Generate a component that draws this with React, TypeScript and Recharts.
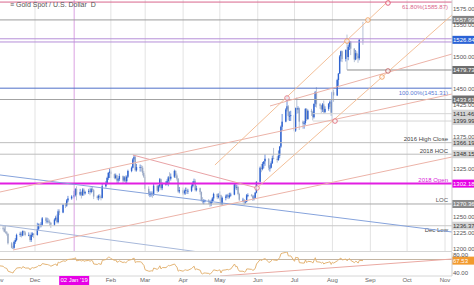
import { ComposedChart, Bar, Line, XAxis, YAxis, ReferenceLine, ReferenceDot } from 'recharts';

// trading days, month by month
const tradingDays: [string, number[]][] = [
    ['2018-11', [1, 2, 5, 6, 7, 8, 9, 12, 13, 14, 15, 16, 19, 20, 21, 22, 23, 26, 27, 28, 29, 30]],
    ['2018-12', [3, 4, 5, 6, 7, 10, 11, 12, 13, 14, 17, 18, 19, 20, 21, 24, 26, 27, 28, 31]],
    ['2019-01', [2, 3, 4, 7, 8, 9, 10, 11, 14, 15, 16, 17, 18, 21, 22, 23, 24, 25, 28, 29, 30, 31]],
    ['2019-02', [1, 4, 5, 6, 7, 8, 11, 12, 13, 14, 15, 18, 19, 20, 21, 22, 25, 26, 27, 28]],
    ['2019-03', [1, 4, 5, 6, 7, 8, 11, 12, 13, 14, 15, 18, 19, 20, 21, 22, 25, 26, 27, 28, 29]],
    ['2019-04', [1, 2, 3, 4, 5, 8, 9, 10, 11, 12, 15, 16, 17, 18, 19, 22, 23, 24, 25, 26, 29, 30]],
    ['2019-05', [1, 2, 3, 6, 7, 8, 9, 10, 13, 14, 15, 16, 17, 20, 21, 22, 23, 24, 27, 28, 29, 30, 31]],
    ['2019-06', [3, 4, 5, 6, 7, 10, 11, 12, 13, 14, 17, 18, 19, 20, 21, 24, 25, 26, 27, 28]],
    ['2019-07', [1, 2, 3, 4, 5, 8, 9, 10, 11, 12, 15, 16, 17, 18, 19, 22, 23, 24, 25, 26, 29, 30, 31]],
    ['2019-08', [1, 2, 5, 6, 7, 8, 9, 12, 13, 14, 15, 16, 19, 20, 21, 22, 23, 26]],
];

const opens = [
    1215, 1233, 1233, 1232, 1227, 1226, 1224, 1209, 1202, 1201, 1211, 1214, 1222, 1224, 1221, 1228, 1226, 1222, 1222, 1214, 1222, 1224,
    1222, 1231, 1238, 1237, 1238, 1248, 1244, 1244, 1243, 1241, 1238, 1246, 1249, 1242, 1259, 1257, 1269, 1268, 1276, 1279,
    1282, 1284, 1294, 1285, 1289, 1284, 1293, 1287, 1289, 1291, 1289, 1294, 1292, 1282, 1280, 1283, 1281, 1280, 1298, 1303, 1311, 1319,
    1321, 1317, 1311, 1315, 1307, 1309, 1314, 1307, 1312, 1306, 1313, 1322, 1327, 1340, 1344, 1323, 1328, 1328, 1327, 1319,
    1313, 1294, 1286, 1286, 1287, 1286, 1299, 1291, 1298, 1309, 1295, 1302, 1302, 1306, 1312, 1310, 1313, 1322, 1315, 1310, 1290,
    1292, 1287, 1291, 1292, 1291, 1291, 1298, 1303, 1306, 1292, 1295, 1289, 1276, 1274, 1276, 1276, 1274, 1271, 1275, 1279, 1286, 1281,
    1283, 1284, 1271, 1280, 1282, 1284, 1281, 1284, 1285, 1301, 1296, 1297, 1286, 1277, 1277, 1273, 1274, 1284, 1284, 1283, 1279, 1280, 1288,
    1305, 1327, 1325, 1333, 1337, 1341, 1327, 1327, 1334, 1342, 1341, 1339, 1346, 1360, 1391, 1399, 1418, 1423, 1408, 1408,
    1409, 1385, 1420, 1418, 1420, 1399, 1396, 1397, 1419, 1403, 1416, 1414, 1406, 1427, 1445, 1426, 1424, 1418, 1426, 1414, 1419, 1427, 1430,
    1413, 1445, 1440, 1464, 1474, 1501, 1509, 1497, 1511, 1500, 1516, 1524, 1513, 1496, 1506, 1502, 1498, 1527,
];
const highs = [
    1237, 1237, 1236, 1237, 1237, 1228, 1224, 1211, 1205, 1213, 1217, 1224, 1227, 1227, 1229, 1229, 1228, 1226, 1223, 1226, 1226, 1225,
    1241, 1240, 1240, 1242, 1250, 1250, 1249, 1248, 1246, 1242, 1248, 1252, 1254, 1262, 1262, 1270, 1272, 1278, 1283, 1284,
    1291, 1295, 1298, 1294, 1290, 1295, 1295, 1291, 1294, 1296, 1296, 1298, 1294, 1284, 1285, 1286, 1284, 1303, 1306, 1313, 1320, 1326,
    1324, 1318, 1318, 1316, 1311, 1318, 1315, 1314, 1315, 1315, 1324, 1329, 1342, 1347, 1346, 1333, 1332, 1331, 1330, 1322,
    1316, 1298, 1290, 1290, 1290, 1302, 1300, 1300, 1311, 1310, 1304, 1306, 1309, 1314, 1320, 1318, 1324, 1323, 1318, 1311, 1297,
    1296, 1293, 1296, 1296, 1294, 1301, 1306, 1310, 1309, 1299, 1296, 1290, 1281, 1278, 1277, 1278, 1276, 1277, 1281, 1288, 1287, 1287,
    1290, 1285, 1282, 1285, 1286, 1287, 1288, 1288, 1303, 1302, 1300, 1299, 1288, 1280, 1278, 1276, 1286, 1287, 1286, 1285, 1284, 1289, 1306,
    1329, 1333, 1336, 1337, 1348, 1342, 1331, 1337, 1346, 1358, 1345, 1354, 1361, 1393, 1411, 1420, 1439, 1425, 1415, 1416,
    1410, 1421, 1437, 1423, 1421, 1401, 1400, 1420, 1420, 1418, 1419, 1416, 1427, 1447, 1453, 1428, 1425, 1428, 1432, 1423, 1428, 1432, 1434,
    1446, 1449, 1466, 1475, 1503, 1510, 1510, 1512, 1535, 1519, 1525, 1525, 1514, 1511, 1509, 1505, 1528, 1555,
];
const lows = [
    1214, 1228, 1229, 1226, 1224, 1221, 1207, 1201, 1200, 1203, 1208, 1212, 1219, 1218, 1220, 1225, 1220, 1220, 1211, 1211, 1219, 1217,
    1221, 1229, 1233, 1234, 1236, 1240, 1240, 1240, 1236, 1233, 1236, 1244, 1240, 1240, 1253, 1256, 1264, 1266, 1273, 1277,
    1279, 1282, 1276, 1283, 1279, 1283, 1283, 1285, 1286, 1284, 1287, 1289, 1278, 1277, 1276, 1278, 1276, 1279, 1296, 1301, 1308, 1311,
    1311, 1309, 1309, 1303, 1303, 1306, 1302, 1305, 1303, 1302, 1311, 1320, 1326, 1336, 1321, 1321, 1321, 1321, 1315, 1311,
    1290, 1283, 1281, 1282, 1280, 1283, 1288, 1289, 1296, 1292, 1292, 1299, 1300, 1298, 1302, 1307, 1311, 1311, 1307, 1288, 1287,
    1284, 1285, 1285, 1286, 1286, 1289, 1296, 1302, 1290, 1290, 1285, 1274, 1271, 1270, 1273, 1270, 1266, 1267, 1272, 1275, 1278, 1279,
    1276, 1267, 1268, 1276, 1279, 1278, 1279, 1282, 1284, 1293, 1292, 1284, 1275, 1273, 1269, 1271, 1273, 1281, 1282, 1275, 1276, 1279, 1287,
    1304, 1320, 1323, 1326, 1330, 1323, 1321, 1326, 1333, 1340, 1335, 1338, 1342, 1358, 1385, 1398, 1415, 1401, 1400, 1400,
    1382, 1383, 1411, 1412, 1386, 1388, 1388, 1394, 1400, 1402, 1408, 1401, 1404, 1422, 1421, 1419, 1412, 1414, 1411, 1412, 1416, 1422, 1408,
    1400, 1430, 1439, 1455, 1474, 1493, 1492, 1493, 1480, 1495, 1511, 1503, 1492, 1495, 1497, 1491, 1495, 1519,
];
const closes = [
    1233, 1233, 1232, 1227, 1226, 1224, 1209, 1202, 1201, 1211, 1214, 1222, 1224, 1221, 1228, 1226, 1222, 1222, 1214, 1222, 1224, 1222,
    1231, 1238, 1237, 1238, 1248, 1244, 1244, 1243, 1241, 1238, 1246, 1249, 1242, 1259, 1257, 1269, 1268, 1276, 1279, 1282,
    1284, 1294, 1285, 1289, 1284, 1293, 1287, 1289, 1291, 1289, 1294, 1292, 1282, 1280, 1283, 1281, 1280, 1298, 1303, 1311, 1319, 1321,
    1317, 1311, 1315, 1307, 1309, 1314, 1307, 1312, 1306, 1313, 1322, 1327, 1340, 1344, 1323, 1328, 1328, 1327, 1319, 1313,
    1294, 1286, 1286, 1287, 1286, 1299, 1291, 1298, 1309, 1295, 1302, 1302, 1306, 1312, 1310, 1313, 1322, 1315, 1310, 1290, 1292,
    1287, 1291, 1292, 1291, 1291, 1298, 1303, 1306, 1292, 1295, 1289, 1276, 1274, 1276, 1276, 1274, 1271, 1275, 1279, 1286, 1281, 1283,
    1284, 1271, 1280, 1282, 1284, 1281, 1284, 1285, 1301, 1296, 1297, 1286, 1277, 1277, 1273, 1274, 1284, 1284, 1283, 1279, 1280, 1288, 1305,
    1327, 1325, 1333, 1337, 1341, 1327, 1327, 1334, 1342, 1341, 1339, 1346, 1360, 1391, 1399, 1418, 1423, 1408, 1408, 1409,
    1385, 1420, 1418, 1420, 1399, 1396, 1397, 1419, 1403, 1416, 1414, 1406, 1427, 1445, 1426, 1424, 1418, 1426, 1414, 1419, 1427, 1430, 1413,
    1445, 1440, 1464, 1474, 1501, 1509, 1497, 1511, 1500, 1516, 1524, 1513, 1496, 1506, 1502, 1498, 1527, 1526.84,
];
const rsi = [
    56, 56, 55, 52, 51, 50, 44, 41, 40, 45, 47, 51, 52, 50, 54, 53, 51, 51, 47, 51, 52, 51,
    54, 57, 56, 57, 61, 59, 59, 58, 57, 55, 59, 60, 56, 64, 63, 67, 66, 69, 70, 71,
    72, 74, 67, 69, 66, 69, 66, 67, 68, 66, 68, 67, 60, 59, 61, 60, 59, 68, 70, 73, 75, 75,
    72, 68, 69, 64, 65, 67, 63, 65, 62, 65, 68, 70, 72, 73, 63, 65, 65, 64, 60, 57,
    47, 44, 44, 45, 44, 51, 48, 51, 56, 49, 52, 52, 54, 57, 56, 57, 60, 56, 53, 44, 46,
    44, 46, 47, 46, 46, 50, 53, 55, 47, 49, 46, 39, 38, 40, 40, 39, 37, 40, 43, 47, 45, 46,
    47, 40, 46, 47, 48, 47, 48, 49, 60, 54, 55, 48, 44, 44, 42, 43, 49, 49, 48, 46, 47, 51, 60,
    70, 67, 70, 71, 72, 64, 64, 67, 70, 69, 68, 71, 75, 83, 84, 86, 87, 78, 78, 78,
    66, 75, 74, 74, 63, 62, 62, 69, 63, 66, 65, 62, 68, 74, 65, 64, 62, 64, 60, 62, 64, 65, 59,
    64, 62, 67, 69, 72, 73, 69, 71, 67, 70, 72, 68, 63, 66, 65, 62, 68, 67.53,
];

// horizontal levels drawn on the price panel
const levelPrices = [1585.87, 1557.99, 1526.84, 1479.73, 1451.31, 1433.61, 1411.46, 1399.99, 1366.19, 1348.15, 1302.18, 1270.36, 1236.37];
const levelNames = ['61.80%(1585.87)', '', '', '', '100.00%(1451.31)', '', '', '', '2016 High Close', '2018 HOC', '2018 Open', 'LOC', 'Dec Low'];
const levelFrom = ['', '', '', '2019-08-13', '', '', '2019-07-16', '2019-07-16', '', '', '', '', ''];
const zoneBounds = [1528.5, 1523.5];

// trendlines [day, price] -> [day, price]
const trendlines: [number, number, number, number][] = [
    [1.4, 1315.7, 370.7, 1226.6],
    [1.4, 1237.5, 200, 1186],
    [110, 1346.9, 211.4, 1295.4],
    [1.4, 1289.1, 370.7, 1442.2],
    [12, 1198.5, 370.7, 1343.8],
    [177, 1331.3, 328.2, 1604.7],
    [211.4, 1295.4, 370.7, 1565.7],
    [222, 1423.5, 370.7, 1504.7],
];
const pivots: [number, number][] = [
    [211.4, 1295.4], [235.9, 1436], [275.1, 1400], [284.9, 1525],
    [302, 1557.8], [318.4, 1584.4], [318.4, 1478.2], [313.5, 1468.8],
];
const rsiTrend: [number, number, number, number] = [181.1, 33.3, 370.7, 71.1];
const rsiLevel = 70;
const rsiLast = 67.53;

const monthStarts = ['2018-11-01', '2018-12-01', '2019-01-02', '2019-02-01', '2019-03-01', '2019-04-01', '2019-05-01',
    '2019-06-01', '2019-07-01', '2019-08-01', '2019-09-01', '2019-10-01', '2019-11-01'];
const monthLabels = ['Nov', 'Dec', "02 Jan '19", 'Feb', 'Mar', 'Apr', 'May', 'Jun', 'Jul', 'Aug', 'Sep', 'Oct', 'Nov'];
const priceTicks = [1200, 1225, 1250, 1325, 1375, 1425, 1450, 1500, 1550, 1575];
const rsiTicks = [40, 80];

const dayIndex = (date: string) => (Date.parse(date) - Date.parse('2018-11-01')) / 86400000;

const dates = tradingDays.flatMap(([m, days]) => days.map((d) => `${m}-${String(d).padStart(2, '0')}`));
const rows = dates.map((date, i) => ({
    day: dayIndex(date),
    open: opens[i],
    high: highs[i],
    low: lows[i],
    close: closes[i],
    rsi: rsi[i],
}));
const monthDays = monthStarts.map(dayIndex);
const JAN = 2;

const X_DOMAIN = [1.4, 370.7];
const UP = '#2f63cf';
const DOWN = '#98a7c4';

const levelStyles = [
    { stroke: '#d9668c', text: '#d9668c', below: true },
    { stroke: '#9b9b9b', tagFill: '#858585', tagText: '#fff' },
    { stroke: 'none', tagFill: '#2a62d6', tagText: '#fff' },
    { stroke: '#8c8c8c', tagFill: '#6e6e6e', tagText: '#fff' },
    { stroke: '#4f70c9', text: '#5a7bd6', below: true },
    { stroke: '#a3a3a3', tagFill: '#6e6e6e', tagText: '#fff' },
    { stroke: '#d5d5d5', tagFill: '#d4d4d4', tagText: '#333' },
    { stroke: '#d5d5d5', tagFill: '#d4d4d4', tagText: '#333' },
    { stroke: '#bdbdbd', text: '#444', tagFill: '#d4d4d4', tagText: '#333' },
    { stroke: '#bdbdbd', text: '#444', tagFill: '#d4d4d4', tagText: '#333' },
    { stroke: '#e21fe2', width: 2, text: '#d81bd8', tagFill: '#e600e6', tagText: '#fff' },
    { stroke: '#a8a8a8', text: '#555', tagFill: '#8a8a8a', tagText: '#fff' },
    { stroke: '#c8c8c8', text: '#444', tagFill: '#d4d4d4', tagText: '#333', below: true },
];
const trendColors = ['#86a3dc', '#a7b8da', '#e9a3a6', '#ecb3a8', '#ecb3a8', '#f3bf98', '#f3bf98', '#ecb3a8'];
const pivotColors = ['#e07a8a', '#e07a8a', '#e06a78', '#f0a060', '#f0a060', '#e05070', '#c06060', '#f0a060'];

const Candle = (props: any) => {
    const { x, y, width, height, payload } = props;
    const { open, high, low, close } = payload;
    const top = Math.min(y, y + height);
    const span = Math.abs(height);
    const k = high > low ? span / (high - low) : 0;
    const cx = x + width / 2;
    const yO = top + (high - open) * k;
    const yC = top + (high - close) * k;
    const color = close >= open ? UP : DOWN;
    return (
        <g>
            <line x1={cx} x2={cx} y1={top} y2={top + span} stroke={color} strokeWidth={0.7} />
            <rect x={cx - 0.7} y={Math.min(yO, yC)} width={1.4} height={Math.max(Math.abs(yC - yO), 0.8)} fill={color} />
        </g>
    );
};

const levelLabel = (text: string, tag: string, st: any) => (props: any) => {
    const { x, y, width } = props.viewBox;
    const right = x + width;
    return (
        <g>
            {text ? (
                <text x={right - 4} y={st.below ? y + 6.5 : y - 1.5} textAnchor="end" fontSize={6} fill={st.text}>{text}</text>
            ) : null}
            {st.tagFill ? (
                <g>
                    <rect x={right} y={y - 4} width={22} height={8} fill={st.tagFill} />
                    <text x={right + 1} y={y + 2.2} fontSize={6} fill={st.tagText}>{tag}</text>
                </g>
            ) : null}
        </g>
    );
};

const MonthTick = (props: any) => {
    const { x, y, payload } = props;
    const i = monthDays.indexOf(payload.value);
    if (i === JAN) {
        return (
            <g>
                <rect x={x - 15} y={y} width={30} height={9} fill="#e600e6" />
                <text x={x} y={y + 6.3} textAnchor="middle" fontSize={6} fill="#fff">{monthLabels[i]}</text>
            </g>
        );
    }
    return <text x={x} y={y + 6.2} textAnchor="middle" fontSize={6} fill="#666">{monthLabels[i]}</text>;
};

export default function App() {
    return (
        <div style={{ position: 'absolute', left: 0, top: 0, width: 474, height: 285, background: '#fff', fontFamily: '"Liberation Sans", Arial, sans-serif', overflow: 'hidden' }}>
            <div style={{ borderBottom: '1px solid #d6d6d6', width: 452, height: 251 }}>
                <ComposedChart width={474} height={251} data={rows} margin={{ top: 0, right: 0, bottom: 0, left: 0 }}>
                    <XAxis dataKey="day" type="number" domain={X_DOMAIN} allowDataOverflow hide />
                    <YAxis orientation="right" width={22} type="number" domain={[1196.9, 1589.1]} allowDataOverflow
                        ticks={priceTicks} interval={0} tickFormatter={(v: number) => v.toFixed(2)}
                        tick={{ fontSize: 6, fill: '#555' }} tickLine={false} tickSize={0} tickMargin={1}
                        axisLine={{ stroke: '#cfcfcf' }} />
                    {monthDays.map((d, i) => (
                        <ReferenceLine key={`m${i}`} x={d} stroke={i === JAN ? '#dba2e2' : '#e3e3e3'} ifOverflow="hidden" />
                    ))}
                    {zoneBounds.map((p, i) => (
                        <ReferenceLine key={`z${i}`} y={p} stroke="#b58fd8" />
                    ))}
                    {levelPrices.map((p, i) => {
                        const st = levelStyles[i];
                        const label = levelLabel(levelNames[i], p.toFixed(2), st);
                        if (levelFrom[i]) {
                            return (
                                <ReferenceLine key={`l${i}`} segment={[{ x: dayIndex(levelFrom[i]), y: p }, { x: X_DOMAIN[1], y: p }]}
                                    stroke={st.stroke} strokeWidth={st.width || 1} label={label} />
                            );
                        }
                        return <ReferenceLine key={`l${i}`} y={p} stroke={st.stroke} strokeWidth={st.width || 1} label={label} />;
                    })}
                    {trendlines.map(([x1, y1, x2, y2], i) => (
                        <ReferenceLine key={`t${i}`} segment={[{ x: x1, y: y1 }, { x: x2, y: y2 }]} stroke={trendColors[i]} ifOverflow="hidden" />
                    ))}
                    <Bar dataKey={(d: any) => [d.low, d.high]} shape={Candle} barSize={1} isAnimationActive={false} />
                    {pivots.map(([d, p], i) => (
                        <ReferenceDot key={`p${i}`} x={d} y={p} r={2.3} fill="#fff" fillOpacity={0.6} stroke={pivotColors[i]} strokeWidth={0.9} ifOverflow="hidden" />
                    ))}
                </ComposedChart>
            </div>
            <div style={{ position: 'absolute', left: 10, top: 1, fontSize: 7, color: '#555', whiteSpace: 'pre' }}>≡ Gold Spot / U.S. Dollar  D</div>
            <div style={{ position: 'absolute', left: 0, top: 252 }}>
                <ComposedChart width={474} height={33} data={rows} margin={{ top: 0, right: 0, bottom: 0, left: 0 }}>
                    <XAxis dataKey="day" type="number" domain={X_DOMAIN} allowDataOverflow ticks={monthDays} interval={0}
                        tick={<MonthTick />} tickLine={false} tickSize={0} tickMargin={0} height={9} axisLine={{ stroke: '#d6d6d6' }} />
                    <YAxis orientation="right" width={22} type="number" domain={[33.3, 86.7]} allowDataOverflow
                        ticks={rsiTicks} interval={0} tickFormatter={(v: number) => v.toFixed(2)}
                        tick={{ fontSize: 6, fill: '#555' }} tickLine={false} tickSize={0} tickMargin={1}
                        axisLine={{ stroke: '#cfcfcf' }} />
                    <ReferenceLine y={rsiLevel} stroke="#c4b5a3" />
                    <ReferenceLine segment={[{ x: rsiTrend[0], y: rsiTrend[1] }, { x: rsiTrend[2], y: rsiTrend[3] }]} stroke="#eaa9a2" ifOverflow="hidden" />
                    <Line dataKey="rsi" type="linear" dot={false} stroke="#e4b474" strokeWidth={1} isAnimationActive={false} />
                    <ReferenceLine y={rsiLast} stroke="none"
                        label={levelLabel('', rsiLast.toFixed(2), { tagFill: '#f29a2e', tagText: '#fff' })} />
                </ComposedChart>
            </div>
        </div>
    );
}
